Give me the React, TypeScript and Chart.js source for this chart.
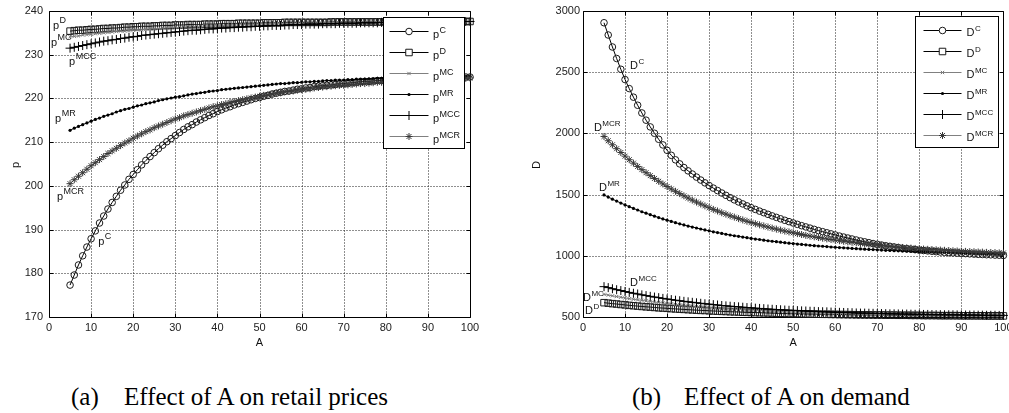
import { useEffect, useRef } from "react";
import { Chart, registerables } from "chart.js";

Chart.register(...registerables);
Chart.defaults.font.family = "'Liberation Sans', Arial, sans-serif";

// ---------------- data ----------------
const A_VALUES = [
  5, 6, 7, 8, 9, 10, 11, 12, 13, 14, 15, 16, 17, 18, 19, 20, 21, 22, 23, 24,
  25, 26, 27, 28, 29, 30, 31, 32, 33, 34, 35, 36, 37, 38, 39, 40, 41, 42, 43, 44,
  45, 46, 47, 48, 49, 50, 51, 52, 53, 54, 55, 56, 57, 58, 59, 60, 61, 62, 63, 64,
  65, 66, 67, 68, 69, 70, 71, 72, 73, 74, 75, 76, 77, 78, 79, 80, 81, 82, 83, 84,
  85, 86, 87, 88, 89, 90, 91, 92, 93, 94, 95, 96, 97, 98, 99, 100,
];

const X_TICKS = [0, 10, 20, 30, 40, 50, 60, 70, 80, 90, 100];
const P_TICKS = [170, 180, 190, 200, 210, 220, 230, 240];
const D_TICKS = [500, 1000, 1500, 2000, 2500, 3000];

const SERIES_KEYS = ["C", "D", "MC", "MR", "MCC", "MCR"];

const P_C = [
  177.3, 179.6, 181.9, 184.0, 186.0, 187.9, 189.7, 191.5, 193.1, 194.7,
  196.2, 197.6, 199.0, 200.2, 201.5, 202.6, 203.7, 204.8, 205.8, 206.7,
  207.6, 208.5, 209.3, 210.1, 210.8, 211.5, 212.2, 212.9, 213.5, 214.0,
  214.6, 215.1, 215.6, 216.1, 216.5, 217.0, 217.4, 217.8, 218.1, 218.5,
  218.8, 219.1, 219.4, 219.7, 220.0, 220.2, 220.5, 220.7, 221.0, 221.2,
  221.4, 221.6, 221.7, 221.9, 222.1, 222.2, 222.4, 222.5, 222.7, 222.8,
  222.9, 223.0, 223.1, 223.2, 223.3, 223.4, 223.5, 223.6, 223.7, 223.8,
  223.9, 223.9, 224.0, 224.1, 224.1, 224.2, 224.2, 224.3, 224.3, 224.4,
  224.4, 224.5, 224.5, 224.5, 224.6, 224.6, 224.6, 224.7, 224.7, 224.7,
  224.8, 224.8, 224.8, 224.8, 224.9, 224.9,
];
const P_D = [
  235.4, 235.5, 235.6, 235.6, 235.7, 235.8, 235.8, 235.9, 236.0, 236.0,
  236.1, 236.1, 236.2, 236.3, 236.3, 236.4, 236.4, 236.5, 236.5, 236.5,
  236.6, 236.6, 236.7, 236.7, 236.7, 236.8, 236.8, 236.8, 236.9, 236.9,
  236.9, 236.9, 237.0, 237.0, 237.0, 237.0, 237.1, 237.1, 237.1, 237.1,
  237.2, 237.2, 237.2, 237.2, 237.2, 237.2, 237.3, 237.3, 237.3, 237.3,
  237.3, 237.4, 237.4, 237.4, 237.4, 237.4, 237.4, 237.4, 237.4, 237.4,
  237.4, 237.4, 237.5, 237.5, 237.5, 237.5, 237.5, 237.5, 237.5, 237.5,
  237.5, 237.5, 237.5, 237.5, 237.5, 237.5, 237.6, 237.6, 237.6, 237.6,
  237.6, 237.6, 237.6, 237.6, 237.6, 237.6, 237.6, 237.6, 237.6, 237.6,
  237.6, 237.6, 237.6, 237.6, 237.6, 237.6,
];
const P_MC = [
  234.1, 234.2, 234.3, 234.5, 234.6, 234.7, 234.8, 234.9, 235.0, 235.1,
  235.2, 235.3, 235.4, 235.4, 235.5, 235.6, 235.7, 235.7, 235.8, 235.9,
  235.9, 236.0, 236.1, 236.1, 236.2, 236.2, 236.3, 236.3, 236.4, 236.4,
  236.5, 236.5, 236.6, 236.6, 236.6, 236.7, 236.7, 236.7, 236.8, 236.8,
  236.8, 236.9, 236.9, 236.9, 237.0, 237.0, 237.0, 237.0, 237.1, 237.1,
  237.1, 237.1, 237.1, 237.2, 237.2, 237.2, 237.2, 237.2, 237.2, 237.3,
  237.3, 237.3, 237.3, 237.3, 237.3, 237.3, 237.4, 237.4, 237.4, 237.4,
  237.4, 237.4, 237.4, 237.4, 237.4, 237.4, 237.5, 237.5, 237.5, 237.5,
  237.5, 237.5, 237.5, 237.5, 237.5, 237.5, 237.5, 237.5, 237.5, 237.5,
  237.6, 237.6, 237.6, 237.6, 237.6, 237.6,
];
const P_MR = [
  212.7, 213.2, 213.6, 214.0, 214.4, 214.8, 215.2, 215.5, 215.9, 216.2,
  216.5, 216.9, 217.2, 217.5, 217.7, 218.0, 218.3, 218.5, 218.8, 219.0,
  219.2, 219.5, 219.7, 219.9, 220.1, 220.3, 220.4, 220.6, 220.8, 221.0,
  221.1, 221.3, 221.4, 221.6, 221.7, 221.8, 222.0, 222.1, 222.2, 222.3,
  222.4, 222.5, 222.6, 222.7, 222.8, 222.9, 223.0, 223.1, 223.2, 223.3,
  223.4, 223.4, 223.5, 223.6, 223.6, 223.7, 223.8, 223.8, 223.9, 223.9,
  224.0, 224.1, 224.1, 224.2, 224.2, 224.2, 224.3, 224.3, 224.4, 224.4,
  224.4, 224.5, 224.5, 224.6, 224.6, 224.6, 224.7, 224.7, 224.7, 224.7,
  224.8, 224.8, 224.8, 224.8, 224.9, 224.9, 224.9, 224.9, 225.0, 225.0,
  225.0, 225.0, 225.0, 225.0, 225.1, 225.1,
];
const P_MCC = [
  231.5, 231.7, 231.9, 232.1, 232.3, 232.5, 232.7, 232.9, 233.1, 233.2,
  233.4, 233.5, 233.7, 233.8, 234.0, 234.1, 234.2, 234.4, 234.5, 234.6,
  234.7, 234.8, 234.9, 235.0, 235.1, 235.2, 235.3, 235.4, 235.5, 235.6,
  235.6, 235.7, 235.8, 235.9, 235.9, 236.0, 236.1, 236.1, 236.2, 236.2,
  236.3, 236.3, 236.4, 236.4, 236.5, 236.5, 236.6, 236.6, 236.7, 236.7,
  236.7, 236.8, 236.8, 236.9, 236.9, 236.9, 237.0, 237.0, 237.0, 237.0,
  237.1, 237.1, 237.1, 237.1, 237.2, 237.2, 237.2, 237.2, 237.2, 237.3,
  237.3, 237.3, 237.3, 237.3, 237.4, 237.4, 237.4, 237.4, 237.4, 237.4,
  237.4, 237.5, 237.5, 237.5, 237.5, 237.5, 237.5, 237.5, 237.5, 237.5,
  237.5, 237.5, 237.5, 237.6, 237.6, 237.6,
];
const P_MCR = [
  200.5, 201.4, 202.2, 203.0, 203.8, 204.6, 205.3, 206.0, 206.7, 207.4,
  208.0, 208.6, 209.2, 209.8, 210.3, 210.9, 211.4, 211.9, 212.4, 212.8,
  213.3, 213.7, 214.1, 214.5, 214.9, 215.3, 215.6, 216.0, 216.3, 216.6,
  216.9, 217.2, 217.5, 217.8, 218.1, 218.3, 218.6, 218.8, 219.1, 219.3,
  219.5, 219.7, 219.9, 220.1, 220.3, 220.5, 220.7, 220.8, 221.0, 221.2,
  221.3, 221.5, 221.6, 221.7, 221.9, 222.0, 222.1, 222.2, 222.4, 222.5,
  222.6, 222.7, 222.8, 222.9, 223.0, 223.0, 223.1, 223.2, 223.3, 223.4,
  223.4, 223.5, 223.6, 223.7, 223.7, 223.8, 223.8, 223.9, 224.0, 224.0,
  224.1, 224.1, 224.2, 224.2, 224.3, 224.3, 224.3, 224.4, 224.4, 224.5,
  224.5, 224.5, 224.6, 224.6, 224.6, 224.7,
];

const D_C = [
  2904, 2804, 2706, 2612, 2524, 2440, 2366, 2296, 2230, 2167,
  2108, 2053, 2001, 1952, 1906, 1862, 1821, 1784, 1751, 1721,
  1694, 1668, 1643, 1619, 1596, 1574, 1553, 1533, 1513, 1494,
  1475, 1457, 1440, 1424, 1408, 1393, 1379, 1365, 1352, 1339,
  1326, 1314, 1302, 1290, 1279, 1268, 1257, 1246, 1236, 1226,
  1216, 1206, 1197, 1188, 1179, 1170, 1161, 1153, 1145, 1137,
  1129, 1121, 1114, 1107, 1100, 1094, 1088, 1082, 1077, 1072,
  1067, 1062, 1058, 1054, 1050, 1046, 1043, 1040, 1037, 1034,
  1031, 1028, 1026, 1024, 1022, 1020, 1018, 1016, 1014, 1012,
  1011, 1009, 1008, 1006, 1005, 1003,
];
const D_D = [
  617, 613, 609, 606, 602, 599, 595, 592, 589, 586,
  583, 581, 578, 575, 573, 571, 568, 566, 564, 562,
  560, 558, 556, 554, 553, 551, 549, 548, 546, 545,
  543, 542, 541, 539, 538, 537, 536, 535, 534, 533,
  532, 531, 530, 529, 528, 527, 527, 526, 525, 524,
  524, 523, 522, 522, 521, 521, 520, 520, 519, 519,
  518, 518, 517, 517, 516, 516, 516, 515, 515, 515,
  514, 514, 514, 513, 513, 513, 512, 512, 512, 512,
  511, 511, 511, 511, 511, 510, 510, 510, 510, 510,
  510, 509, 509, 509, 509, 509,
];
const D_MC = [
  685, 679, 673, 667, 661, 656, 650, 645, 640, 636,
  631, 627, 622, 618, 614, 610, 607, 603, 600, 596,
  593, 590, 587, 584, 581, 579, 576, 574, 571, 569,
  567, 564, 562, 560, 558, 557, 555, 553, 551, 550,
  548, 547, 545, 544, 542, 541, 540, 539, 537, 536,
  535, 534, 533, 532, 531, 530, 529, 529, 528, 527,
  526, 525, 525, 524, 523, 523, 522, 521, 521, 520,
  520, 519, 519, 518, 518, 517, 517, 516, 516, 516,
  515, 515, 515, 514, 514, 514, 513, 513, 513, 512,
  512, 512, 512, 511, 511, 511,
];
const D_MR = [
  1497, 1480, 1463, 1447, 1431, 1416, 1401, 1387, 1374, 1360,
  1348, 1336, 1324, 1312, 1301, 1291, 1281, 1271, 1261, 1252,
  1243, 1235, 1227, 1219, 1211, 1204, 1196, 1190, 1183, 1176,
  1170, 1164, 1159, 1153, 1148, 1142, 1137, 1133, 1128, 1123,
  1119, 1115, 1111, 1107, 1103, 1100, 1096, 1093, 1090, 1086,
  1083, 1080, 1078, 1075, 1072, 1070, 1067, 1065, 1063, 1060,
  1058, 1056, 1054, 1052, 1051, 1049, 1047, 1045, 1044, 1042,
  1041, 1039, 1038, 1037, 1035, 1034, 1033, 1032, 1031, 1030,
  1029, 1028, 1027, 1026, 1025, 1024, 1023, 1022, 1021, 1021,
  1020, 1019, 1019, 1018, 1017, 1017,
];
const D_MCC = [
  748, 740, 731, 723, 716, 708, 701, 694, 688, 681,
  675, 669, 663, 658, 652, 647, 642, 637, 633, 628,
  624, 620, 616, 612, 608, 605, 601, 598, 594, 591,
  588, 585, 583, 580, 577, 575, 572, 570, 568, 565,
  563, 561, 559, 557, 555, 554, 552, 550, 549, 547,
  546, 544, 543, 542, 540, 539, 538, 537, 536, 535,
  533, 532, 532, 531, 530, 529, 528, 527, 526, 526,
  525, 524, 524, 523, 522, 522, 521, 521, 520, 519,
  519, 518, 518, 518, 517, 517, 516, 516, 516, 515,
  515, 514, 514, 514, 513, 513,
];
const D_MCR = [
  1975, 1940, 1907, 1875, 1844, 1814, 1785, 1757, 1730, 1704,
  1679, 1655, 1632, 1609, 1587, 1566, 1546, 1527, 1508, 1490,
  1472, 1455, 1439, 1423, 1408, 1393, 1379, 1366, 1352, 1340,
  1327, 1316, 1304, 1293, 1282, 1272, 1262, 1253, 1244, 1235,
  1226, 1218, 1210, 1202, 1195, 1188, 1181, 1174, 1167, 1161,
  1155, 1149, 1144, 1138, 1133, 1128, 1123, 1119, 1114, 1110,
  1106, 1101, 1098, 1094, 1090, 1087, 1083, 1080, 1077, 1074,
  1071, 1068, 1065, 1063, 1060, 1058, 1055, 1053, 1051, 1049,
  1047, 1045, 1043, 1041, 1039, 1037, 1036, 1034, 1033, 1031,
  1030, 1028, 1027, 1026, 1024, 1023,
];

// in-plot curve labels: [superscript, A, value] (baseline-left of the main letter)
const P_CURVE_LABELS: [string, number, number][] = [
  ["D", 0.95, 235.9],
  ["MC", 0.45, 232.1],
  ["MCC", 4.76, 227.6],
  ["MR", 1.43, 214.6],
  ["MCR", 1.9, 196.8],
  ["C", 11.7, 186.5],
];
const D_CURVE_LABELS: [string, number, number][] = [
  ["C", 11.2, 2526],
  ["MCR", 2.6, 2020],
  ["MR", 3.8, 1529],
  ["MCC", 11.2, 753],
  ["MC", 0.0, 631],
  ["D", 0.5, 525],
];

const CAPTION_TAGS = ["(a)", "(b)"];
const CAPTION_TEXTS = ["Effect of A on retail prices", "Effect of A on demand"];

// ---------------- styles ----------------
type MarkerKind = "circle" | "rect" | "cross" | "crossRot" | "star" | "dot";
const SERIES_STYLE: Record<string, { kind: MarkerKind; r: number; stroke: string; line: string }> = {
  C: { kind: "circle", r: 3.3, stroke: "#1a1a1a", line: "#000" },
  D: { kind: "rect", r: 4.6, stroke: "#1a1a1a", line: "#000" },
  MC: { kind: "crossRot", r: 2.3, stroke: "#777", line: "#808080" },
  MR: { kind: "dot", r: 1.6, stroke: "#000", line: "#000" },
  MCC: { kind: "cross", r: 4.5, stroke: "#000", line: "#000" },
  MCR: { kind: "star", r: 3.5, stroke: "#383838", line: "#808080" },
};

const FONT = "'Liberation Sans', Arial, sans-serif";

function drawMarker(ctx: CanvasRenderingContext2D, kind: MarkerKind, x: number, y: number, r: number, stroke: string, fill: string) {
  ctx.save();
  ctx.strokeStyle = stroke;
  ctx.fillStyle = fill;
  ctx.lineWidth = 1;
  ctx.beginPath();
  const d = r * Math.SQRT1_2;
  if (kind === "circle") {
    ctx.arc(x, y, r, 0, Math.PI * 2);
    ctx.fill();
    ctx.stroke();
  } else if (kind === "dot") {
    ctx.fillStyle = stroke;
    ctx.arc(x, y, r, 0, Math.PI * 2);
    ctx.fill();
  } else if (kind === "rect") {
    ctx.rect(x - d, y - d, 2 * d, 2 * d);
    ctx.fill();
    ctx.stroke();
  } else {
    if (kind === "cross" || kind === "star") {
      ctx.moveTo(x - r, y);
      ctx.lineTo(x + r, y);
      ctx.moveTo(x, y - r);
      ctx.lineTo(x, y + r);
    }
    if (kind === "crossRot" || kind === "star") {
      ctx.moveTo(x - d, y - d);
      ctx.lineTo(x + d, y + d);
      ctx.moveTo(x - d, y + d);
      ctx.lineTo(x + d, y - d);
    }
    ctx.stroke();
  }
  ctx.restore();
}

type Spec = {
  id: string;
  base: string;
  values: number[][];
  yMin: number;
  yMax: number;
  yTicks: number[];
  labels: [string, number, number][];
  width: number;
  height: number;
  area: { left: number; right: number; top: number; bottom: number };
  yAxisWidth: number;
  yTickPad: number;
  supSize: number;
  supRaise: number;
  legend: { padL: number; line: number; gap: number; padR: number; inset: number; row: number; first: number; textDy: number; supDy: number };
  yTitleX: number;
};

function makeFramePlugin(spec: Spec) {
  return {
    id: "matlabFrame" + spec.id,
    beforeDatasetsDraw(chart: any) {
      const { ctx, chartArea } = chart;
      const { left, right, top, bottom } = chartArea;
      const xs = chart.scales.x;
      const ys = chart.scales.y;
      const L = Math.round(left) + 0.5;
      const R = Math.round(right) + 0.5;
      const T = Math.round(top) + 0.5;
      const B = Math.round(bottom) + 0.5;
      ctx.save();
      ctx.lineWidth = 1;
      ctx.strokeStyle = "#1e1e1e";
      ctx.setLineDash([1, 2]);
      ctx.beginPath();
      for (const v of X_TICKS) {
        if (v <= xs.min || v >= xs.max) continue;
        const px = Math.round(xs.getPixelForValue(v)) + 0.5;
        ctx.moveTo(px, T);
        ctx.lineTo(px, B);
      }
      for (const v of spec.yTicks) {
        if (v <= ys.min || v >= ys.max) continue;
        const py = Math.round(ys.getPixelForValue(v)) + 0.5;
        ctx.moveTo(L, py);
        ctx.lineTo(R, py);
      }
      ctx.stroke();
      ctx.setLineDash([]);
      ctx.strokeStyle = "#000";
      ctx.beginPath();
      ctx.rect(L, T, R - L, B - T);
      const tl = 4;
      for (const v of X_TICKS) {
        const px = Math.round(xs.getPixelForValue(v)) + 0.5;
        ctx.moveTo(px, B);
        ctx.lineTo(px, B - tl);
        ctx.moveTo(px, T);
        ctx.lineTo(px, T + tl);
      }
      for (const v of spec.yTicks) {
        const py = Math.round(ys.getPixelForValue(v)) + 0.5;
        ctx.moveTo(L, py);
        ctx.lineTo(L + tl, py);
        ctx.moveTo(R, py);
        ctx.lineTo(R - tl, py);
      }
      ctx.stroke();
      ctx.restore();
    },
    afterDatasetsDraw(chart: any) {
      const { ctx, chartArea } = chart;
      const xs = chart.scales.x;
      const ys = chart.scales.y;
      const baseFont = `11px ${FONT}`;
      const supFont = `${spec.supSize}px ${FONT}`;
      ctx.save();
      ctx.fillStyle = "#111";
      ctx.textAlign = "left";
      ctx.textBaseline = "alphabetic";
      // curve labels
      for (const [sup, a, v] of spec.labels) {
        const x = xs.getPixelForValue(a);
        const y = ys.getPixelForValue(v);
        ctx.font = baseFont;
        ctx.fillText(spec.base, x, y);
        const w = ctx.measureText(spec.base).width;
        ctx.font = supFont;
        ctx.fillText(sup, x + w + 0.5, y - spec.supRaise);
      }
      // legend
      const lg = spec.legend;
      ctx.font = baseFont;
      const bw = ctx.measureText(spec.base).width;
      ctx.font = supFont;
      let maxSup = 0;
      for (const k of SERIES_KEYS) maxSup = Math.max(maxSup, ctx.measureText(k).width);
      const boxW = Math.round(lg.padL + lg.line + lg.gap + bw + 0.5 + maxSup + lg.padR);
      const boxH = Math.round(lg.first * 2 + lg.row * (SERIES_KEYS.length - 1));
      const bx = Math.round(chartArea.right) - lg.inset - boxW + 0.5;
      const by = Math.round(chartArea.top) + lg.inset + 0.5;
      ctx.fillStyle = "#fff";
      ctx.fillRect(bx, by, boxW, boxH);
      ctx.strokeStyle = "#000";
      ctx.lineWidth = 1;
      ctx.strokeRect(bx, by, boxW, boxH);
      SERIES_KEYS.forEach((k, i) => {
        const st = SERIES_STYLE[k];
        const y = Math.round(by + lg.first + i * lg.row) + 0.5;
        const x0 = bx + lg.padL;
        ctx.strokeStyle = st.line;
        ctx.beginPath();
        ctx.moveTo(x0, y);
        ctx.lineTo(x0 + lg.line, y);
        ctx.stroke();
        drawMarker(ctx, st.kind, x0 + lg.line / 2, y, st.r, st.stroke, "#fff");
        const tx = x0 + lg.line + lg.gap;
        ctx.fillStyle = "#111";
        ctx.font = baseFont;
        ctx.fillText(spec.base, tx, y + lg.textDy);
        ctx.font = supFont;
        ctx.fillText(k, tx + bw + 0.5, y + lg.supDy);
      });
      // axis titles
      ctx.fillStyle = "#111";
      ctx.font = baseFont;
      ctx.textAlign = "center";
      ctx.textBaseline = "middle";
      ctx.fillText("A", (chartArea.left + chartArea.right) / 2, chartArea.bottom + 26);
      ctx.save();
      ctx.translate(spec.yTitleX, (chartArea.top + chartArea.bottom) / 2 + 1);
      ctx.rotate(-Math.PI / 2);
      ctx.fillText(spec.base, 0, 0);
      ctx.restore();
      ctx.restore();
    },
  };
}

function buildChart(canvas: HTMLCanvasElement, spec: Spec) {
  const datasets = SERIES_KEYS.map((key, i) => {
    const st = SERIES_STYLE[key];
    return {
      label: spec.base + key,
      data: spec.values[i].map((v, j) => ({ x: A_VALUES[j], y: v })),
      borderColor: st.line,
      borderWidth: 1,
      pointStyle: st.kind === "dot" ? "circle" : st.kind,
      pointRadius: st.r,
      pointBorderColor: st.stroke,
      pointBackgroundColor: st.kind === "dot" ? st.stroke : "rgba(0,0,0,0)",
      pointBorderWidth: st.kind === "dot" ? 0 : 1,
      pointHoverRadius: st.r,
      tension: 0,
      fill: false,
      clip: false as any,
      order: SERIES_KEYS.length - i,
    };
  });
  const a = spec.area;
  const xAxisHeight = 30;
  return new Chart(canvas, {
    type: "line",
    data: { datasets: datasets as any },
    options: {
      responsive: false,
      animation: false,
      events: [],
      layout: {
        padding: {
          left: a.left - spec.yAxisWidth,
          right: spec.width - a.right,
          top: a.top,
          bottom: spec.height - a.bottom - xAxisHeight,
        },
      },
      scales: {
        x: {
          type: "linear",
          min: 0,
          max: 100,
          afterBuildTicks: (s: any) => {
            s.ticks = X_TICKS.map((v) => ({ value: v }));
          },
          afterFit: (s: any) => {
            s.height = xAxisHeight;
            s.paddingLeft = 0;
            s.paddingRight = 0;
          },
          grid: { display: false, drawTicks: false },
          border: { display: false },
          ticks: {
            padding: 4,
            color: "#222",
            font: { size: 11, family: FONT },
            maxRotation: 0,
            autoSkip: false,
            callback: (v: any) => String(v),
          },
        },
        y: {
          type: "linear",
          min: spec.yMin,
          max: spec.yMax,
          afterBuildTicks: (s: any) => {
            s.ticks = spec.yTicks.map((v) => ({ value: v }));
          },
          afterFit: (s: any) => {
            s.width = spec.yAxisWidth;
            s.paddingTop = 0;
            s.paddingBottom = 0;
          },
          grid: { display: false, drawTicks: false },
          border: { display: false },
          ticks: {
            padding: spec.yTickPad,
            color: "#222",
            font: { size: 11, family: FONT },
            autoSkip: false,
            callback: (v: any) => String(v),
          },
        },
      },
      plugins: { legend: { display: false }, tooltip: { enabled: false } },
    } as any,
    plugins: [makeFramePlugin(spec)],
  });
}

const LEFT_SPEC: Spec = {
  id: "a",
  base: "p",
  values: [P_C, P_D, P_MC, P_MR, P_MCC, P_MCR],
  yMin: 170,
  yMax: 240,
  yTicks: P_TICKS,
  labels: P_CURVE_LABELS,
  width: 480,
  height: 360,
  area: { left: 49, right: 470, top: 11, bottom: 317 },
  yAxisWidth: 40,
  yTickPad: 6,
  supSize: 9,
  supRaise: 6,
  legend: { padL: 6, line: 39, gap: 4.5, padR: 4, inset: 6, row: 21, first: 13, textDy: 6, supDy: 1.5 },
  yTitleX: 16,
};

const RIGHT_SPEC: Spec = {
  id: "b",
  base: "D",
  values: [D_C, D_D, D_MC, D_MR, D_MCC, D_MCR],
  yMin: 500,
  yMax: 3000,
  yTicks: D_TICKS,
  labels: D_CURVE_LABELS,
  width: 489,
  height: 360,
  area: { left: 63, right: 484, top: 11, bottom: 317 },
  yAxisWidth: 45,
  yTickPad: 3,
  supSize: 8,
  supRaise: 5,
  legend: { padL: 8, line: 38, gap: 5, padR: 5, inset: 5, row: 21, first: 13, textDy: 5, supDy: 0 },
  yTitleX: 17,
};

export default function App() {
  const leftRef = useRef<HTMLCanvasElement>(null);
  const rightRef = useRef<HTMLCanvasElement>(null);
  useEffect(() => {
    const c1 = buildChart(leftRef.current!, LEFT_SPEC);
    const c2 = buildChart(rightRef.current!, RIGHT_SPEC);
    return () => {
      c1.destroy();
      c2.destroy();
    };
  }, []);
  const capFont = "25px 'Liberation Serif', 'Times New Roman', serif";
  const capStyle = (left: number): any => ({
    position: "absolute",
    left,
    top: 384,
    font: capFont,
    lineHeight: "26px",
    whiteSpace: "nowrap",
    color: "#000",
  });
  return (
    <div style={{ position: "absolute", left: 0, top: 0, width: 1009, height: 413, background: "#fff", overflow: "hidden" }}>
      <canvas
        ref={leftRef}
        width={LEFT_SPEC.width}
        height={LEFT_SPEC.height}
        style={{ position: "absolute", left: 0, top: 0, width: LEFT_SPEC.width, height: LEFT_SPEC.height }}
      />
      <canvas
        ref={rightRef}
        width={RIGHT_SPEC.width}
        height={RIGHT_SPEC.height}
        style={{ position: "absolute", left: 520, top: 0, width: RIGHT_SPEC.width, height: RIGHT_SPEC.height }}
      />
      <div style={capStyle(71)}>{CAPTION_TAGS[0]}</div>
      <div style={capStyle(124)}>{CAPTION_TEXTS[0]}</div>
      <div style={capStyle(632)}>{CAPTION_TAGS[1]}</div>
      <div style={capStyle(684)}>{CAPTION_TEXTS[1]}</div>
    </div>
  );
}
